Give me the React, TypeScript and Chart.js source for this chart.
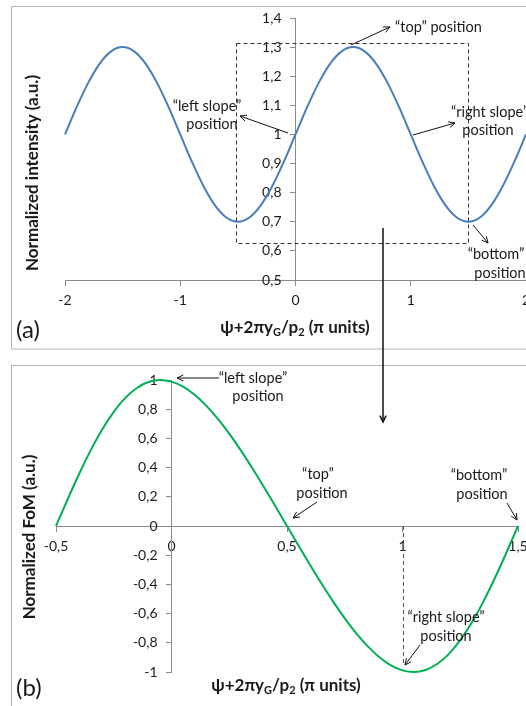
import React, { useEffect, useRef } from 'react';
import { Chart, registerables, LinearScale } from 'chart.js';

// Linear scale whose tick labels keep their tick+padding gap when the axis is placed at a data value
class CrossLinearScale extends (LinearScale as any) {
  static id = 'crossLinear';
  static defaults = (LinearScale as any).defaults;
  _computeLabelItems(chartArea: any) {
    const items = super._computeLabelItems(chartArea);
    if (!this.isHorizontal()) {
      const shift = (this.options.grid.tickLength || 0) + (this.options.ticks.padding || 0);
      for (const it of items) it.options.translation[0] -= shift;
    }
    return items;
  }
}

Chart.register(...registerables, CrossLinearScale as any);

// ---------- data ----------
const intensityX = [-2, -1.9, -1.8, -1.7, -1.6, -1.5, -1.4, -1.3, -1.2, -1.1, -1, -0.9, -0.8, -0.7, -0.6, -0.5, -0.4, -0.3, -0.2, -0.1, 0, 0.1, 0.2, 0.3, 0.4, 0.5, 0.6, 0.7, 0.8, 0.9, 1, 1.1, 1.2, 1.3, 1.4, 1.5, 1.6, 1.7, 1.8, 1.9, 2];
const intensityY = [1, 1.0927, 1.1763, 1.2427, 1.2853, 1.3, 1.2853, 1.2427, 1.1763, 1.0927, 1, 0.9073, 0.8237, 0.7573, 0.7147, 0.7, 0.7147, 0.7573, 0.8237, 0.9073, 1, 1.0927, 1.1763, 1.2427, 1.2853, 1.3, 1.2853, 1.2427, 1.1763, 1.0927, 1, 0.9073, 0.8237, 0.7573, 0.7147, 0.7, 0.7147, 0.7573, 0.8237, 0.9073, 1];

const fomX = [-0.5, -0.45, -0.4, -0.35, -0.3, -0.25, -0.2, -0.15, -0.1, -0.05, 0, 0.05, 0.1, 0.15, 0.2, 0.25, 0.3, 0.35, 0.4, 0.45, 0.5, 0.55, 0.6, 0.65, 0.7, 0.75, 0.8, 0.85, 0.9, 0.95, 1, 1.05, 1.1, 1.15, 1.2, 1.25, 1.3, 1.35, 1.4, 1.45, 1.5];
const fomY = [0, 0.1815, 0.3564, 0.5181, 0.6614, 0.7821, 0.8773, 0.9453, 0.9861, 1.0, 0.9887, 0.9541, 0.8987, 0.8248, 0.735, 0.6321, 0.5183, 0.396, 0.2674, 0.1347, 0, -0.1347, -0.2674, -0.396, -0.5183, -0.6321, -0.735, -0.8248, -0.8987, -0.9541, -0.9887, -1.0, -0.9861, -0.9453, -0.8773, -0.7821, -0.6614, -0.5181, -0.3564, -0.1815, 0];

// axis ranges / tick steps
const axisA = { xMin: -2, xMax: 2, xStep: 1, yMin: 0.5, yMax: 1.4, yStep: 0.1 };
const axisB = { xMin: -0.5, xMax: 1.5, xStep: 0.5, yMin: -1, yMax: 1, yStep: 0.2 };

// dashed selection box in panel (a), data units
const boxA = { x0: -0.52, x1: 1.5, y0: 0.627, y1: 1.314 };
// dashed marker in panel (b)
const markerB = { x: 1, y0: 0, y1: -0.95 };

const FONT = 'Lato, "Open Sans", "DejaVu Sans", sans-serif';
const TEXT = '#1a1a1a';
const AXIS = '#8a8a8a';

const fmt = (v: number) => String(Math.round(v * 100) / 100).replace('.', ',');

function arrow(ctx: CanvasRenderingContext2D, x1: number, y1: number, x2: number, y2: number, head = 7) {
  ctx.beginPath();
  ctx.moveTo(x1, y1);
  ctx.lineTo(x2, y2);
  ctx.stroke();
  const a = Math.atan2(y2 - y1, x2 - x1);
  ctx.beginPath();
  ctx.moveTo(x2 - head * Math.cos(a - 0.45), y2 - head * Math.sin(a - 0.45));
  ctx.lineTo(x2, y2);
  ctx.lineTo(x2 - head * Math.cos(a + 0.45), y2 - head * Math.sin(a + 0.45));
  ctx.stroke();
}

function xTitle(ctx: CanvasRenderingContext2D, cx: number, cy: number) {
  const parts: [string, boolean][] = [['ψ+2πy', false], ['G', true], ['/p', false], ['2', true], [' (π units)', false]];
  const main = `bold 17px ${FONT}`;
  const sub = `bold 11px ${FONT}`;
  let total = 0;
  for (const [t, s] of parts) { ctx.font = s ? sub : main; total += ctx.measureText(t).width; }
  let x = cx - total / 2;
  ctx.textAlign = 'left';
  ctx.textBaseline = 'alphabetic';
  ctx.fillStyle = TEXT;
  for (const [t, s] of parts) {
    ctx.font = s ? sub : main;
    ctx.fillText(t, x, cy + 6 + (s ? 3 : 0));
    x += ctx.measureText(t).width;
  }
}

function yTitle(ctx: CanvasRenderingContext2D, text: string, cx: number, cy: number) {
  ctx.save();
  ctx.translate(cx, cy);
  ctx.rotate(-Math.PI / 2);
  ctx.font = `bold 17px ${FONT}`;
  ctx.fillStyle = TEXT;
  ctx.textAlign = 'center';
  ctx.textBaseline = 'middle';
  ctx.fillText(text, 0, 0);
  ctx.restore();
}

function label(ctx: CanvasRenderingContext2D, text: string, x: number, y: number, align: CanvasTextAlign = 'center') {
  ctx.font = `14.5px ${FONT}`;
  ctx.fillStyle = TEXT;
  ctx.textAlign = align;
  ctx.textBaseline = 'middle';
  ctx.fillText(text, x, y);
}

const decorA = {
  id: 'decorA',
  beforeDraw(chart: any) {
    const ctx = chart.ctx as CanvasRenderingContext2D;
    ctx.save();
    ctx.fillStyle = '#fff';
    ctx.fillRect(0, 0, chart.width, chart.height);
    ctx.strokeStyle = '#b4b4b4';
    ctx.lineWidth = 1;
    ctx.strokeRect(11.5, 6.5, 700, 342.5);
    ctx.restore();
  },
  afterDatasetsDraw(chart: any) {
    const ctx = chart.ctx as CanvasRenderingContext2D;
    const xs = chart.scales.x, ys = chart.scales.y;
    ctx.save();
    // dashed box
    ctx.strokeStyle = '#333';
    ctx.lineWidth = 1;
    ctx.setLineDash([4, 3]);
    const l = Math.round(xs.getPixelForValue(boxA.x0)) + 0.5;
    const r = Math.round(xs.getPixelForValue(boxA.x1)) + 0.5;
    const t = Math.round(ys.getPixelForValue(boxA.y1)) + 0.5;
    const b = Math.round(ys.getPixelForValue(boxA.y0)) + 0.5;
    ctx.strokeRect(l, t, r - l, b - t);
    ctx.setLineDash([]);
    // arrows
    ctx.strokeStyle = '#111';
    ctx.lineWidth = 1;
    arrow(ctx, 351, 45, 390, 27);
    arrow(ctx, 288, 133, 240, 116);
    arrow(ctx, 413, 135, 455, 123);
    arrow(ctx, 473, 225, 488, 243);
    // link arrow down to panel (b)
    ctx.lineWidth = 1.5;
    ctx.beginPath();
    ctx.moveTo(383, 228);
    ctx.lineTo(383, chart.height);
    ctx.stroke();
    // labels
    label(ctx, '“top” position', 395, 27, 'left');
    label(ctx, '“left slope”', 207, 106);
    label(ctx, 'position', 212, 124);
    label(ctx, '“right slope”', 451, 112, 'left');
    label(ctx, 'position', 488, 130);
    label(ctx, '“bottom”', 496, 254);
    label(ctx, 'position', 500, 273);
    ctx.font = `24px ${FONT}`;
    ctx.fillStyle = TEXT;
    ctx.textAlign = 'left';
    ctx.textBaseline = 'middle';
    ctx.fillText('(a)', 16, 330);
    xTitle(ctx, 295, 327);
    yTitle(ctx, 'Normalized intensity (a.u.)', 33, 173);
    ctx.restore();
  },
};

const OFF_B = 352;
const decorB = {
  id: 'decorB',
  beforeDraw(chart: any) {
    const ctx = chart.ctx as CanvasRenderingContext2D;
    ctx.save();
    ctx.fillStyle = '#fff';
    ctx.fillRect(0, 0, chart.width, chart.height);
    ctx.strokeStyle = '#b4b4b4';
    ctx.lineWidth = 1;
    ctx.strokeRect(11.5, 365.5 - OFF_B, 700, 700);
    ctx.restore();
  },
  afterDatasetsDraw(chart: any) {
    const ctx = chart.ctx as CanvasRenderingContext2D;
    const xs = chart.scales.x, ys = chart.scales.y;
    ctx.save();
    ctx.strokeStyle = '#555';
    ctx.lineWidth = 1;
    ctx.setLineDash([4, 3]);
    const mx = Math.round(xs.getPixelForValue(markerB.x)) + 0.5;
    ctx.beginPath();
    ctx.moveTo(mx, ys.getPixelForValue(markerB.y0));
    ctx.lineTo(mx, ys.getPixelForValue(markerB.y1));
    ctx.stroke();
    ctx.setLineDash([]);
    ctx.strokeStyle = '#111';
    // link arrow from panel (a)
    ctx.lineWidth = 1.5;
    arrow(ctx, 383, 0, 383, 422 - OFF_B, 7);
    ctx.lineWidth = 1;
    arrow(ctx, 219, 378 - OFF_B, 177, 378 - OFF_B);
    arrow(ctx, 317, 502 - OFF_B, 293, 518 - OFF_B);
    arrow(ctx, 507, 503 - OFF_B, 517, 520 - OFF_B);
    arrow(ctx, 420, 645 - OFF_B, 405, 665 - OFF_B);
    label(ctx, '“left slope”', 253, 378 - OFF_B);
    label(ctx, 'position', 258, 396 - OFF_B);
    label(ctx, '“top”', 318, 474 - OFF_B);
    label(ctx, 'position', 322, 493 - OFF_B);
    label(ctx, '“bottom”', 479, 475 - OFF_B);
    label(ctx, 'position', 482, 494 - OFF_B);
    label(ctx, '“right slope”', 446, 617 - OFF_B);
    label(ctx, 'position', 446, 636 - OFF_B);
    ctx.font = `24px ${FONT}`;
    ctx.fillStyle = TEXT;
    ctx.textAlign = 'left';
    ctx.textBaseline = 'middle';
    ctx.fillText('(b)', 16, 688 - OFF_B);
    xTitle(ctx, 286, 685 - OFF_B);
    yTitle(ctx, 'Normalized FoM (a.u.)', 30, 537 - OFF_B);
    ctx.restore();
  },
};

function buildOptions(ax: any, padding: any, xAt: number, yAt: number) {
  const tickFont = { family: FONT, size: 14 };
  const grid = { drawOnChartArea: false, drawTicks: true, tickLength: 5, color: AXIS, lineWidth: 1 };
  const border = { display: true, color: AXIS, width: 1 };
  return {
    responsive: false,
    animation: false as const,
    events: [] as any[],
    layout: { padding },
    plugins: { legend: { display: false }, tooltip: { enabled: false }, title: { display: false } },
    scales: {
      x: {
        type: 'linear' as const,
        min: ax.xMin, max: ax.xMax,
        position: { y: xAt },
        ticks: { stepSize: ax.xStep, callback: (v: any) => fmt(Number(v)), font: tickFont, color: TEXT, padding: 7, autoSkip: false, maxRotation: 0 },
        grid, border,
      },
      y: {
        type: 'crossLinear',
        min: ax.yMin, max: ax.yMax,
        position: { x: yAt },
        ticks: { stepSize: ax.yStep, callback: (v: any) => fmt(Number(v)), font: tickFont, color: TEXT, padding: 9, autoSkip: false },
        grid, border,
      },
    },
  };
}

export default function App() {
  const refA = useRef<HTMLCanvasElement>(null);
  const refB = useRef<HTMLCanvasElement>(null);

  useEffect(() => {
    const chartA = new Chart(refA.current!, {
      type: 'line',
      data: {
        datasets: [{
          data: intensityX.map((x, i) => ({ x, y: intensityY[i] })),
          borderColor: '#4A7EBB', borderWidth: 2, pointRadius: 0,
          cubicInterpolationMode: 'monotone', fill: false, clip: false,
        }],
      },
      options: buildOptions(axisA, { left: 65, right: 34, top: 18, bottom: 72 }, 0.5, 0) as any,
      plugins: [decorA],
    });
    const chartB = new Chart(refB.current!, {
      type: 'line',
      data: {
        datasets: [{
          data: fomX.map((x, i) => ({ x, y: fomY[i] })),
          borderColor: '#00B050', borderWidth: 2, pointRadius: 0,
          cubicInterpolationMode: 'monotone', fill: false, clip: false,
        }],
      },
      options: buildOptions(axisB, { left: 56, right: 42, top: 28, bottom: 34 }, 0, 0) as any,
      plugins: [decorB],
    });
    return () => { chartA.destroy(); chartB.destroy(); };
  }, []);

  return (
    <div style={{ position: 'absolute', left: 0, top: 0, width: 526, height: 706, overflow: 'hidden', background: '#fff' }}>
      <canvas ref={refA} width={560} height={352} style={{ position: 'absolute', left: 0, top: 0, width: 560, height: 352 }} />
      <canvas ref={refB} width={560} height={354} style={{ position: 'absolute', left: 0, top: 352, width: 560, height: 354 }} />
    </div>
  );
}
